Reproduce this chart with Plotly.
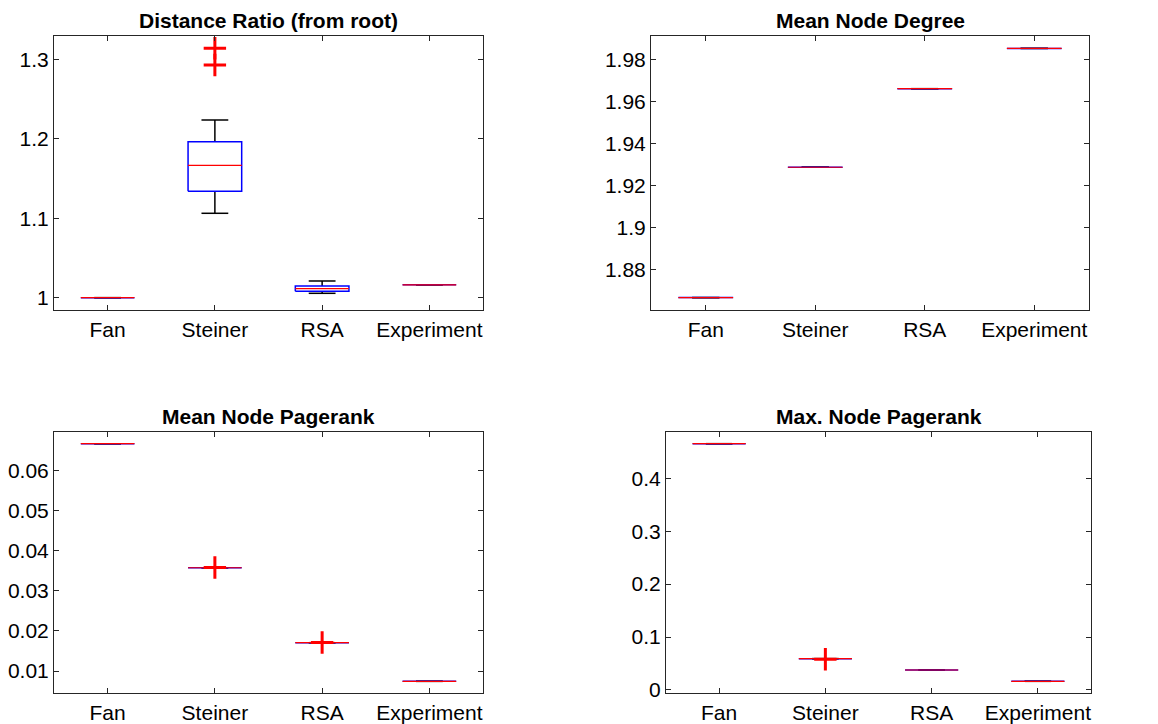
import plotly.graph_objects as go

W, H = 1158, 724

categories = ["Fan", "Steiner", "RSA", "Experiment"]

# Distance Ratio (from root): box statistics per method
dist_q1 = [1.0, 1.1338, 1.0082, 1.0162]
dist_med = [1.0, 1.1666, 1.0114, 1.0162]
dist_q3 = [1.0, 1.1963, 1.0147, 1.0162]
dist_lo = [1.0, 1.1062, 1.0055, 1.0162]
dist_hi = [1.0, 1.2236, 1.0210, 1.0162]
dist_out = [[], [1.3138, 1.2928], [], []]

# Mean Node Degree (no spread)
deg_vals = [1.8665, 1.9286, 1.9660, 1.9852]
deg_out = [[], [], [], []]

# Mean Node Pagerank
mpr_vals = [0.06663, 0.03573, 0.01705, 0.00743]
mpr_out = [[], [0.0358], [0.0171], []]

# Max. Node Pagerank
xpr_vals = [0.4654, 0.0592, 0.0378, 0.0164]
xpr_out = [[], [0.0580], [], []]

titles = ["Distance Ratio (from root)", "Mean Node Degree",
          "Mean Node Pagerank", "Max. Node Pagerank"]
yranges = [[0.9845, 1.3293], [1.8606, 1.9911], [0.00452, 0.06955], [-0.0057, 0.4875]]
ytickvals = [[1.0, 1.1, 1.2, 1.3],
             [1.88, 1.90, 1.92, 1.94, 1.96, 1.98],
             [0.01, 0.02, 0.03, 0.04, 0.05, 0.06],
             [0.0, 0.1, 0.2, 0.3, 0.4]]
yticktext = [["1", "1.1", "1.2", "1.3"],
             ["1.88", "1.9", "1.92", "1.94", "1.96", "1.98"],
             ["0.01", "0.02", "0.03", "0.04", "0.05", "0.06"],
             ["0", "0.1", "0.2", "0.3", "0.4"]]

# axes rectangles in pixels: (left, right, top, bottom)
boxes_px = [(54, 483, 36, 310), (651, 1089, 36, 310),
            (54, 483, 432, 693), (666, 1091, 432, 693)]

panels = [
    (dist_q1, dist_med, dist_q3, dist_lo, dist_hi, dist_out),
    (deg_vals, deg_vals, deg_vals, deg_vals, deg_vals, deg_out),
    (mpr_vals, mpr_vals, mpr_vals, mpr_vals, mpr_vals, mpr_out),
    (xpr_vals, xpr_vals, xpr_vals, xpr_vals, xpr_vals, xpr_out),
]

AX = "#262626"
FONT = "Liberation Sans, Arial, Helvetica, sans-serif"
HALF = 0.25   # half box width
CAP = 0.125   # half whisker-cap width

fig = go.Figure()
layout = dict(width=W, height=H, margin=dict(l=0, r=0, t=0, b=0, autoexpand=False),
              paper_bgcolor="white", plot_bgcolor="white", showlegend=False,
              font=dict(family=FONT, size=21, color="#000000"))
annotations = []

for k, (q1, med, q3, lo, hi, outs) in enumerate(panels):
    sfx = "" if k == 0 else str(k + 1)
    xa, ya = "x" + sfx, "y" + sfx
    l, r, t, b = boxes_px[k]
    dx = [l / W, r / W]
    dy = [1 - b / H, 1 - t / H]

    wx, wy, bx, by, mx, my, ox, oy = [], [], [], [], [], [], [], []
    for i in range(len(categories)):
        c = i + 1
        # whiskers and caps
        wx += [c, c, None, c, c, None,
               c - CAP, c + CAP, None, c - CAP, c + CAP, None]
        wy += [q3[i], hi[i], None, q1[i], lo[i], None,
               hi[i], hi[i], None, lo[i], lo[i], None]
        # box outline
        bx += [c - HALF, c + HALF, c + HALF, c - HALF, c - HALF, None]
        by += [q1[i], q1[i], q3[i], q3[i], q1[i], None]
        # median
        mx += [c - HALF, c + HALF, None]
        my += [med[i], med[i], None]
        for v in outs[i]:
            ox.append(c)
            oy.append(v)

    fig.add_trace(go.Scatter(x=wx, y=wy, mode="lines", xaxis=xa, yaxis=ya,
                             line=dict(color="#000000", width=1.5),
                             hoverinfo="skip"))
    fig.add_trace(go.Scatter(x=bx, y=by, mode="lines", xaxis=xa, yaxis=ya,
                             line=dict(color="#0000FF", width=1.5),
                             hoverinfo="skip"))
    fig.add_trace(go.Scatter(x=mx, y=my, mode="lines", xaxis=xa, yaxis=ya,
                             line=dict(color="#FF0000", width=1.2),
                             hoverinfo="skip"))
    if ox:
        fig.add_trace(go.Scatter(x=ox, y=oy, mode="markers", xaxis=xa, yaxis=ya,
                                 marker=dict(symbol="cross-thin", size=16,
                                             line=dict(color="#FF0000", width=3)),
                                 hoverinfo="skip"))

    common = dict(showline=True, linecolor=AX, linewidth=1, mirror="ticks",
                  ticks="inside", ticklen=5, tickcolor=AX, tickwidth=1,
                  showgrid=False, zeroline=False, fixedrange=True, automargin=False,
                  tickfont=dict(family=FONT, size=21, color="#000000"))
    layout["xaxis" + sfx] = dict(domain=dx, anchor=ya, range=[0.5, 4.5],
                                 tickmode="array", tickvals=[1, 2, 3, 4],
                                 ticktext=categories, ticklabelstandoff=1, **common)
    layout["yaxis" + sfx] = dict(domain=dy, anchor=xa, range=yranges[k],
                                 tickmode="array", tickvals=ytickvals[k],
                                 ticktext=yticktext[k], **common)
    annotations.append(dict(text="<b>" + titles[k] + "</b>", xref="paper", yref="paper",
                            x=(dx[0] + dx[1]) / 2, y=dy[1], xanchor="center",
                            yanchor="bottom", yshift=2, showarrow=False,
                            font=dict(family=FONT, size=21, color="#000000")))

layout["annotations"] = annotations
fig.update_layout(**layout)
fig.write_html("out.html")
